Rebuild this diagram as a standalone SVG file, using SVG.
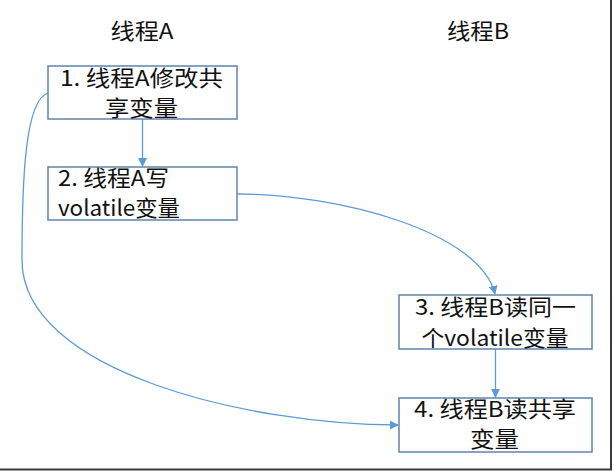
<svg xmlns="http://www.w3.org/2000/svg" width="614" height="471" viewBox="0 0 614 471">
<defs>
<style>
.box{fill:#fff;stroke:#5f84ad;stroke-width:1.5}
.t{font-family:"Microsoft YaHei","Noto Sans CJK SC","Noto Sans",sans-serif;font-size:22px;fill:#111}
.c{fill:none;stroke:#5b9bd5;stroke-width:1.3}
</style>
<marker id="ah" viewBox="0 0 10 10" refX="9" refY="5" markerWidth="9" markerHeight="9" markerUnits="userSpaceOnUse" orient="auto">
<path d="M0,0 L10,5 L0,10 Z" fill="#5b9bd5"/>
</marker>
</defs>
<rect width="614" height="471" fill="#fff"/>
<path d="M611,0 V469.5 H0" fill="none" stroke="#3a3a3a" stroke-width="2"/>
<text class="t" x="142" y="39" text-anchor="middle" textLength="63" lengthAdjust="spacingAndGlyphs">线程A</text>
<text class="t" x="478" y="39" text-anchor="middle" textLength="62" lengthAdjust="spacingAndGlyphs">线程B</text>
<g id="connectors">
<path class="c" d="M142.5,119.5 V166" marker-end="url(#ah)"/>
<path class="c" d="M237,194 C340,194 480,232 495,294" marker-end="url(#ah)"/>
<path class="c" d="M495.5,349.5 V397" marker-end="url(#ah)"/>
<path class="c" d="M48,93 C25,100 22,180 22,260 C22,372 250,425 398,425" marker-end="url(#ah)"/>
</g>
<g id="n1">
<rect class="box" x="48" y="66" width="189" height="53"/>
<text class="t" x="141.5" y="86" text-anchor="middle" textLength="163" lengthAdjust="spacingAndGlyphs">1. 线程A修改共</text>
<text class="t" x="141.5" y="116" text-anchor="middle" textLength="73" lengthAdjust="spacingAndGlyphs">享变量</text>
</g>
<g id="n2">
<rect class="box" x="48" y="167" width="189" height="53"/>
<text class="t" x="58" y="186" textLength="111" lengthAdjust="spacingAndGlyphs">2. 线程A写</text>
<text class="t" x="58" y="216" textLength="122" lengthAdjust="spacingAndGlyphs">volatile变量</text>
</g>
<g id="n3">
<rect class="box" x="399" y="295" width="193" height="54"/>
<text class="t" x="495.5" y="315" text-anchor="middle" textLength="161" lengthAdjust="spacingAndGlyphs">3. 线程B读同一</text>
<text class="t" x="495" y="346" text-anchor="middle" textLength="147" lengthAdjust="spacingAndGlyphs">个volatile变量</text>
</g>
<g id="n4">
<rect class="box" x="399" y="398" width="193" height="54"/>
<text class="t" x="495" y="417" text-anchor="middle" textLength="162" lengthAdjust="spacingAndGlyphs">4. 线程B读共享</text>
<text class="t" x="494.5" y="447" text-anchor="middle" textLength="49" lengthAdjust="spacingAndGlyphs">变量</text>
</g>
</svg>
